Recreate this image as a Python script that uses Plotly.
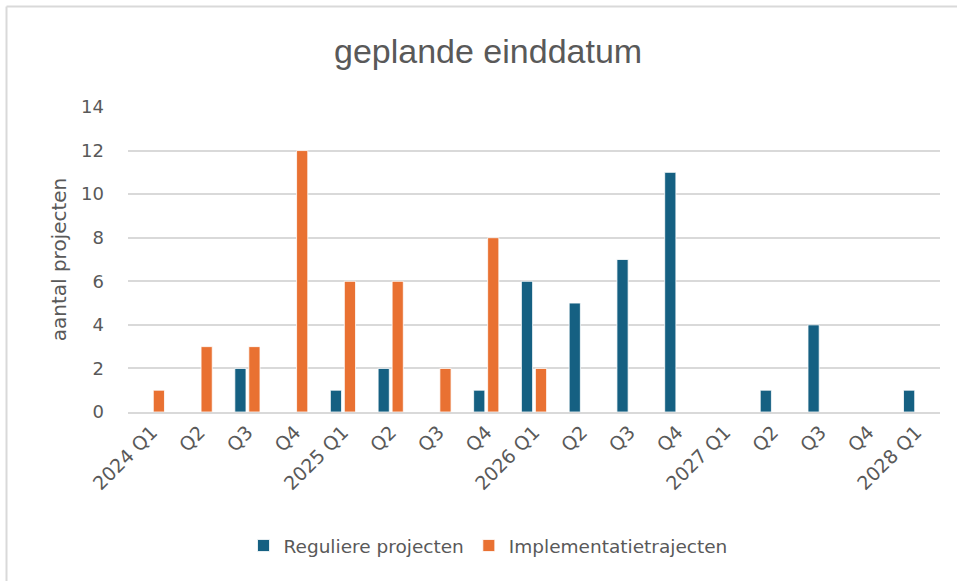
import plotly.graph_objects as go

categories = ["2024 Q1", "Q2 ", "Q3 ", "Q4 ", "2025 Q1", "Q2  ", "Q3  ", "Q4  ", "2026 Q1",
              "Q2   ", "Q3   ", "Q4   ", "2027 Q1", "Q2    ", "Q3    ", "Q4    ", "2028 Q1"]
tick_labels = ["2024 Q1", "Q2", "Q3", "Q4", "2025 Q1", "Q2", "Q3", "Q4", "2026 Q1",
               "Q2", "Q3", "Q4", "2027 Q1", "Q2", "Q3", "Q4", "2028 Q1"]
reguliere = [0, 0, 2, 0, 1, 2, 0, 1, 6, 5, 7, 11, 0, 1, 4, 0, 1]
implementatie = [1, 3, 3, 12, 6, 6, 2, 8, 2, 0, 0, 0, 0, 0, 0, 0, 0]

BLUE = "#156082"
ORANGE = "#E97132"
TXT = "#595959"
GRID = "#D9D9D9"
FONT = "DejaVu Sans, Liberation Sans, sans-serif"

fig = go.Figure()
fig.add_trace(go.Bar(x=categories, y=reguliere, name="Reguliere projecten",
                     marker=dict(color=BLUE, line=dict(color="white", width=0.8))))
fig.add_trace(go.Bar(x=categories, y=implementatie, name="Implementatietrajecten",
                     marker=dict(color=ORANGE, line=dict(color="white", width=0.8))))

L, R, T, B = 128, 17, 107, 169
W, H = 957, 581
pw, ph = W - L - R, H - T - B

def px_x(x):
    return (x - L) / pw

def px_y(y):
    return (H - B - y) / ph

fig.update_layout(
    width=W, height=H,
    margin=dict(l=L, r=R, t=T, b=B, autoexpand=False),
    paper_bgcolor="white", plot_bgcolor="white",
    barmode="group", bargap=0.414, bargroupgap=0.2,
    font=dict(family=FONT, color=TXT, size=17),
    title=dict(text="geplande einddatum", x=0.51, xanchor="center",
               y=1 - 51 / H, yanchor="middle", yref="container",
               font=dict(family="Liberation Sans, Arial, sans-serif", size=34, color=TXT)),
    legend=dict(orientation="h", x=px_x(488), xanchor="center", y=px_y(546), yanchor="middle",
                font=dict(size=18.5, color=TXT), itemwidth=30, traceorder="normal"),
    showlegend=True,
    shapes=[
        dict(type="line", xref="paper", yref="paper", x0=px_x(6.5), x1=px_x(960),
             y0=px_y(6.5), y1=px_y(6.5), line=dict(color=GRID, width=2)),
        dict(type="line", xref="paper", yref="paper", x0=px_x(6.5), x1=px_x(6.5),
             y0=px_y(6.5), y1=px_y(590), line=dict(color=GRID, width=2)),
    ],
)
fig.update_xaxes(
    tickmode="array", tickvals=categories, ticktext=tick_labels,
    tickangle=-45, tickfont=dict(size=19, color=TXT),
    showgrid=False, showline=True, linecolor=GRID, linewidth=1.5,
    ticks="", fixedrange=True, automargin=False,
)
fig.update_yaxes(
    range=[0, 14], dtick=2, showgrid=True, gridcolor=GRID, gridwidth=1.5,
    zeroline=False, showline=False, ticks="", ticklabelstandoff=23,
    tickfont=dict(size=18, color=TXT), automargin=False, fixedrange=True,
    title=dict(text="aantal projecten", font=dict(size=20, color=TXT), standoff=9),
)
fig.write_html("out.html", config={"displayModeBar": False},
               post_script="document.body.style.margin='0';")
